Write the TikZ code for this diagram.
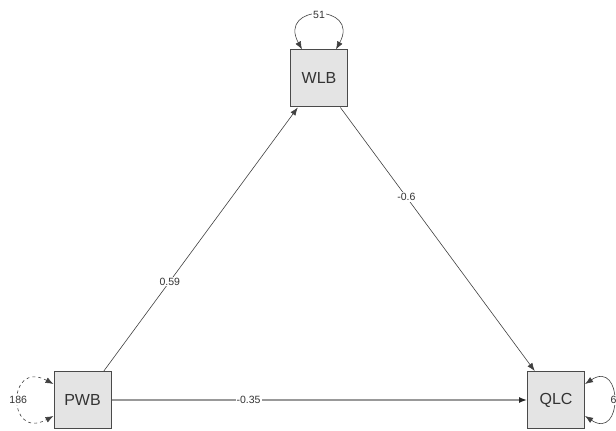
\documentclass[tikz,border=0pt]{standalone}
\usepackage{fontspec}
\setmainfont{Liberation Sans}
\usetikzlibrary{arrows.meta}
\definecolor{boxfill}{HTML}{E4E4E4}
\definecolor{boxline}{HTML}{4A4A4A}
\definecolor{txt}{HTML}{333333}
\tikzset{
  var/.style={draw=boxline, fill=boxfill, line width=1pt, inner sep=0pt,
    minimum width=57pt, minimum height=57pt, text=txt,
    font=\fontsize{16}{16}\selectfont},
  path/.style={draw=black!75, line width=0.6pt, -{Latex[length=8pt,width=6pt]}},
  lbl/.style={fill=white, inner sep=1pt, text=txt, font=\fontsize{10.5}{10.5}\selectfont},
  loopline/.style={draw=black!75, line width=0.6pt,
    {Latex[length=8pt,width=6pt]}-{Latex[length=8pt,width=6pt]}}
}
\begin{document}
\begin{tikzpicture}[x=1pt,y=1pt]
\useasboundingbox (0,0) rectangle (616,431);
\node[var] (WLB) at (319,352.5) {WLB};
\node[var] (PWB) at (82.5,31) {PWB};
\node[var] (QLC) at (556,31) {QLC};
\draw[path] (PWB) -- node[lbl,pos=0.34] (l1) {0.59} (WLB);
\draw[path] (WLB) -- node[lbl,pos=0.34] (l2) {-0.6} (QLC);
\draw[draw=black!40, line width=1.4pt, -{Latex[length=8pt,width=6pt,color=black!85]}] (PWB) -- node[lbl,pos=0.33] (l3) {-0.35} (QLC);
\draw[loopline] ([xshift=-17pt]WLB.north) .. controls +(-25,46) and +(25,46) .. node[lbl,midway] (l4) {51} ([xshift=17pt]WLB.north);
\draw[loopline, dashed] ([yshift=16pt]PWB.west) .. controls +(-47,25) and +(-47,-25) .. node[lbl,midway] (l5) {186} ([yshift=-16pt]PWB.west);
\draw[loopline] ([yshift=16pt]QLC.east) .. controls +(38,25) and +(38,-25) .. node[lbl,midway] (l6) {6} ([yshift=-16pt]QLC.east);
\end{tikzpicture}
\end{document}
